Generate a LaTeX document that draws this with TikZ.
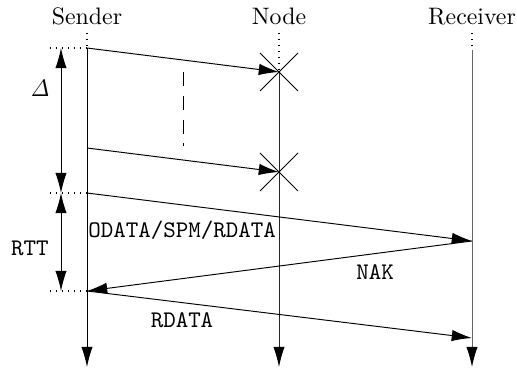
\documentclass[tikz,border=0pt]{standalone}
\usetikzlibrary{arrows.meta}
\begin{document}
\begin{tikzpicture}[x=0.42pt,y=-0.42pt,
  tip/.style={-{Latex[length=8.5pt,width=4.8pt,color=black]}},
  dtip/.style={{Latex[length=8.5pt,width=4.8pt]}-{Latex[length=8.5pt,width=4.8pt]}},
  lifeline/.style={tip},
  msg/.style={tip, line width=0.4pt},
  guide/.style={dotted, line width=0.5pt},
  title/.style={anchor=base, inner sep=0pt, font=\normalsize},
  lbl/.style={inner sep=0pt, font=\ttfamily}]
\useasboundingbox (0,0) rectangle (517,368);
% titles
\node[title] (ts) at (87,25) {Sender};
\node[title] (tn) at (279,25) {Node};
\node[title] (tr) at (472,25) {Receiver};
% coordinates
\coordinate (s0) at (87,33);
\coordinate (s1) at (87,48);
\coordinate (s2) at (87,148);
\coordinate (s3) at (87,193);
\coordinate (s4) at (87,291);
\coordinate (sE) at (87,367);
\coordinate (n0) at (279,33);
\coordinate (n1) at (279,72);
\coordinate (n2) at (279,172);
\coordinate (nE) at (279,367);
\coordinate (r0) at (472,33);
\coordinate (r1) at (472,50);
\coordinate (r2) at (472,241);
\coordinate (r3) at (472,338);
\coordinate (rE) at (472,367);
% lifelines
\draw[guide] (s0) -- (s1);
\draw[lifeline] (s1) -- (sE);
\draw[guide] (n0) -- (n1);
\draw[lifeline, draw=black!85] (n1) -- (nE);
\draw[guide] (r0) -- (r1);
\draw[lifeline, draw=black!60] (r1) -- (rE);
% horizontal guides
\coordinate (g1) at (50,48);
\coordinate (g2) at (50,193);
\coordinate (g3) at (50,291);
\draw[guide] (g1) -- (s1);
\draw[guide] (g2) -- (s3);
\draw[guide] (g3) -- (s4);
% interval arrows
\coordinate (a1) at (61,48);
\coordinate (a2) at (61,193);
\coordinate (a3) at (61,291);
\draw[dtip] (a1) -- (a2);
\draw[dtip] (a2) -- (a3);
\node (delta) at (40,88) {$\mathit{\Delta}$};
\node[lbl] (rtt) at (30,248) {RTT};
% lost messages
\draw[msg] (s1) -- (n1);
\draw[msg] (s2) -- (n2);
\draw (260,53) -- (298,91) (260,91) -- (298,53);
\draw (260,153) -- (298,191) (260,191) -- (298,153);
\coordinate (d1) at (183,72);
\coordinate (d2) at (183,146);
\draw[dash pattern=on 6pt off 4pt] (d1) -- (d2);
% messages
\draw[msg] (s3) -- (r2);
\node[lbl, anchor=west] (odata) at (88,230) {ODATA/SPM/RDATA};
\draw[msg] (r2) -- (s4);
\node[lbl] (nak) at (375,272) {NAK};
\draw[msg] (s4) -- (r3);
\node[lbl] (rdata) at (182,320) {RDATA};
\end{tikzpicture}
\end{document}
